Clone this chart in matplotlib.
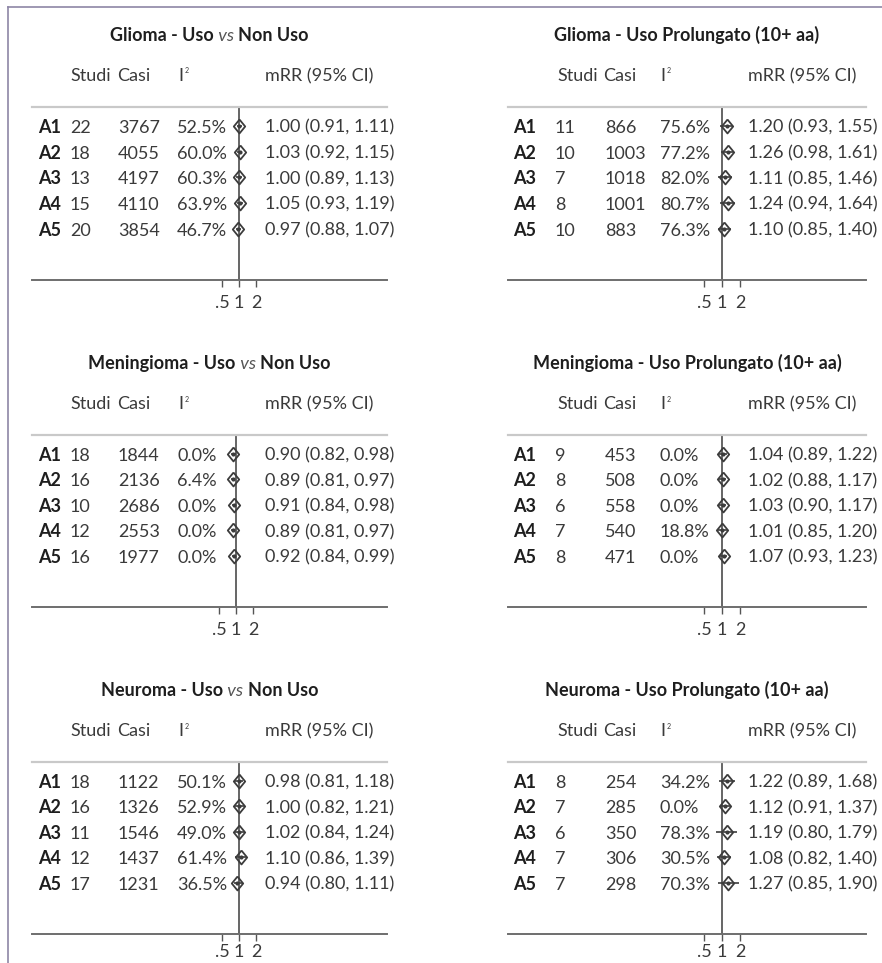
import matplotlib.pyplot as plt
import matplotlib.transforms as mtransforms
from matplotlib.lines import Line2D
from matplotlib.ticker import NullLocator

plt.rcParams['font.family'] = ['Lato', 'DejaVu Sans']

analisi = ['A1', 'A2', 'A3', 'A4', 'A5']

# Glioma
glioma_uso_studi = [22, 18, 13, 15, 20]
glioma_uso_casi = [3767, 4055, 4197, 4110, 3854]
glioma_uso_i2 = [52.5, 60.0, 60.3, 63.9, 46.7]
glioma_uso_mrr = [1.00, 1.03, 1.00, 1.05, 0.97]
glioma_uso_lo = [0.91, 0.92, 0.89, 0.93, 0.88]
glioma_uso_hi = [1.11, 1.15, 1.13, 1.19, 1.07]

glioma_prol_studi = [11, 10, 7, 8, 10]
glioma_prol_casi = [866, 1003, 1018, 1001, 883]
glioma_prol_i2 = [75.6, 77.2, 82.0, 80.7, 76.3]
glioma_prol_mrr = [1.20, 1.26, 1.11, 1.24, 1.10]
glioma_prol_lo = [0.93, 0.98, 0.85, 0.94, 0.85]
glioma_prol_hi = [1.55, 1.61, 1.46, 1.64, 1.40]

# Meningioma
mening_uso_studi = [18, 16, 10, 12, 16]
mening_uso_casi = [1844, 2136, 2686, 2553, 1977]
mening_uso_i2 = [0.0, 6.4, 0.0, 0.0, 0.0]
mening_uso_mrr = [0.90, 0.89, 0.91, 0.89, 0.92]
mening_uso_lo = [0.82, 0.81, 0.84, 0.81, 0.84]
mening_uso_hi = [0.98, 0.97, 0.98, 0.97, 0.99]

mening_prol_studi = [9, 8, 6, 7, 8]
mening_prol_casi = [453, 508, 558, 540, 471]
mening_prol_i2 = [0.0, 0.0, 0.0, 18.8, 0.0]
mening_prol_mrr = [1.04, 1.02, 1.03, 1.01, 1.07]
mening_prol_lo = [0.89, 0.88, 0.90, 0.85, 0.93]
mening_prol_hi = [1.22, 1.17, 1.17, 1.20, 1.23]

# Neuroma
neur_uso_studi = [18, 16, 11, 12, 17]
neur_uso_casi = [1122, 1326, 1546, 1437, 1231]
neur_uso_i2 = [50.1, 52.9, 49.0, 61.4, 36.5]
neur_uso_mrr = [0.98, 1.00, 1.02, 1.10, 0.94]
neur_uso_lo = [0.81, 0.82, 0.84, 0.86, 0.80]
neur_uso_hi = [1.18, 1.21, 1.24, 1.39, 1.11]

neur_prol_studi = [8, 7, 6, 7, 7]
neur_prol_casi = [254, 285, 350, 306, 298]
neur_prol_i2 = [34.2, 0.0, 78.3, 30.5, 70.3]
neur_prol_mrr = [1.22, 1.12, 1.19, 1.08, 1.27]
neur_prol_lo = [0.89, 0.91, 0.80, 0.82, 0.85]
neur_prol_hi = [1.68, 1.37, 1.79, 1.40, 1.90]

tick_vals = [0.5, 1, 2]
tick_labels = ['.5', '1', '2']

pannelli = [
    (['Glioma - Uso', ' vs ', 'Non Uso'], glioma_uso_studi, glioma_uso_casi, glioma_uso_i2,
     glioma_uso_mrr, glioma_uso_lo, glioma_uso_hi),
    (['Glioma - Uso Prolungato (10+ aa)'], glioma_prol_studi, glioma_prol_casi, glioma_prol_i2,
     glioma_prol_mrr, glioma_prol_lo, glioma_prol_hi),
    (['Meningioma - Uso', ' vs ', 'Non Uso'], mening_uso_studi, mening_uso_casi, mening_uso_i2,
     mening_uso_mrr, mening_uso_lo, mening_uso_hi),
    (['Meningioma - Uso Prolungato (10+ aa)'], mening_prol_studi, mening_prol_casi, mening_prol_i2,
     mening_prol_mrr, mening_prol_lo, mening_prol_hi),
    (['Neuroma - Uso', ' vs ', 'Non Uso'], neur_uso_studi, neur_uso_casi, neur_uso_i2,
     neur_uso_mrr, neur_uso_lo, neur_uso_hi),
    (['Neuroma - Uso Prolungato (10+ aa)'], neur_prol_studi, neur_prol_casi, neur_prol_i2,
     neur_prol_mrr, neur_prol_lo, neur_prol_hi),
]

W, H = 882, 963
fig = plt.figure(figsize=(W / 100, H / 100), dpi=100)


def fx(px):
    return px / W


def fy(py):
    return 1 - py / H


# pixel geometry of the two columns of panels
colonne = [
    dict(x0=32, x1=387, scale=17.0, cols=[38, 70, 118, 177, 265], heads=[70, 117, 178, 265]),
    dict(x0=508, x1=866, scale=18.0, cols=[513, 555, 605, 660, 748], heads=[557, 603, 660, 748]),
]
righe = [(107, 280), (435, 607), (762, 934)]
linea_uno = [[239, 722], [236, 722], [239, 722]]
tick_pad = [6, 6, 2]  # last row sits on the page edge

TXT = '#3a3a3a'
DARK = '#1e1e1e'
FS = 13

# diamond a bit taller than wide
rombo = [(0, 1), (0.82, 0), (0, -1), (-0.82, 0), (0, 1)]

titoli = []
for k, (titolo, studi, casi, i2, mrr, lo, hi) in enumerate(pannelli):
    r, c = divmod(k, 2)
    g = colonne[c]
    ytop, ybot = righe[r]
    x0, x1 = g['x0'], g['x1']
    v = linea_uno[r][c]

    ax = fig.add_axes([fx(x0), fy(ybot), fx(x1) - fx(x0), (ybot - ytop) / H])
    ax.patch.set_alpha(0)
    ax.set_xscale('log', base=2)
    ax.set_xlim(2 ** ((x0 - v) / g['scale']), 2 ** ((x1 - v) / g['scale']))
    ax.set_ylim(7.0, 0.26)
    for s in ['left', 'right']:
        ax.spines[s].set_visible(False)
    ax.spines['top'].set_color('#c9c9c9')
    ax.spines['top'].set_linewidth(1.6)
    ax.spines['bottom'].set_color('#6e6e6e')
    ax.spines['bottom'].set_linewidth(1.4)
    ax.axvline(1, color='#3c3c3c', lw=1.1, zorder=1)
    ax.set_xticks(tick_vals)
    ax.set_xticklabels(tick_labels)
    ax.xaxis.set_minor_locator(NullLocator())
    ax.tick_params(axis='x', direction='out', length=5, width=1, color='#555555',
                   pad=tick_pad[r], labelsize=FS, labelcolor=TXT)
    ax.set_yticks([])

    tr = mtransforms.blended_transform_factory(ax.transAxes, ax.transData)

    def fr(px):
        return (px - x0) / (x1 - x0)

    # header
    hy = -0.75
    ax.text(fr(g['heads'][0]), hy, 'Studi', transform=tr, fontsize=FS, color=TXT, va='baseline')
    ax.text(fr(g['heads'][1]), hy, 'Casi', transform=tr, fontsize=FS, color=TXT, va='baseline')
    it = ax.text(fr(g['heads'][2]), hy, 'I', transform=tr, fontsize=FS, color=TXT, va='baseline')
    ax.annotate('2', xy=(1, 1), xycoords=it, xytext=(1.5, 0.5), textcoords='offset points',
                fontsize=5, color=TXT, ha='left', va='top')
    ax.text(fr(g['heads'][3]), hy, 'mRR (95% CI)', transform=tr, fontsize=FS, color=TXT, va='baseline')

    # rows
    ys = [i + 1 for i in range(len(analisi))]
    for y, lab, s_, c_, i_, m_, l_, h_ in zip(ys, analisi, studi, casi, i2, mrr, lo, hi):
        yb = y + 0.27
        ax.text(fr(g['cols'][0]), yb, lab, transform=tr, fontsize=FS, color=DARK,
                fontweight='bold', va='baseline')
        ax.text(fr(g['cols'][1]), yb, str(s_), transform=tr, fontsize=FS, color=TXT, va='baseline')
        ax.text(fr(g['cols'][2]), yb, str(c_), transform=tr, fontsize=FS, color=TXT, va='baseline')
        ax.text(fr(g['cols'][3]), yb, f'{i_:.1f}%', transform=tr, fontsize=FS, color=TXT, va='baseline')
        ax.text(fr(g['cols'][4]), yb, f'{m_:.2f} ({l_:.2f}, {h_:.2f})', transform=tr,
                fontsize=FS, color=TXT, va='baseline')

    ax.hlines(ys, lo, hi, color='#3c3c3c', lw=1.2, zorder=2)
    ax.plot(mrr, ys, linestyle='none', marker=rombo, ms=10, mfc='none', mec='#3c3c3c',
            mew=1.3, zorder=3)
    ax.plot(mrr, ys, linestyle='none', marker='o', ms=3, mfc='#3c3c3c', mec='none', zorder=3)

    # title, possibly made of several pieces (bold / italic)
    ty = -2.31
    pezzi = []
    first = ax.text(0.5, ty, titolo[0], transform=tr, fontsize=FS, color=DARK,
                    fontweight='bold', va='baseline', ha='left')
    pezzi.append(first)
    prev = first
    for p in titolo[1:]:
        if p.strip() == 'vs':
            t = ax.annotate(p, xy=(1, 0), xycoords=prev, ha='left', va='bottom',
                            fontsize=FS, color='#555555', style='italic')
        else:
            t = ax.annotate(p, xy=(1, 0), xycoords=prev, ha='left', va='bottom',
                            fontsize=FS, color=DARK, fontweight='bold')
        pezzi.append(t)
        prev = t
    titoli.append((ax, pezzi))

# center the composite titles over each panel
renderer = fig.canvas.get_renderer()
for ax, pezzi in titoli:
    for _ in range(2):
        ext = [p.get_window_extent(renderer) for p in pezzi]
        left = ext[0].x0
        right = ext[-1].x1
        axb = ax.get_window_extent(renderer)
        centro = axb.x0 + axb.width / 2
        shift = centro - (left + right) / 2
        x_old = pezzi[0].get_position()[0]
        pezzi[0].set_x(x_old + shift / axb.width)

# page frame
cornice = '#8e86a6'
fig.add_artist(Line2D([fx(8), fx(8)], [fy(7), 0], color=cornice, lw=1.2))
fig.add_artist(Line2D([fx(8), 1], [fy(7), fy(7)], color=cornice, lw=1.2))

fig.savefig('out.png', dpi=100)
